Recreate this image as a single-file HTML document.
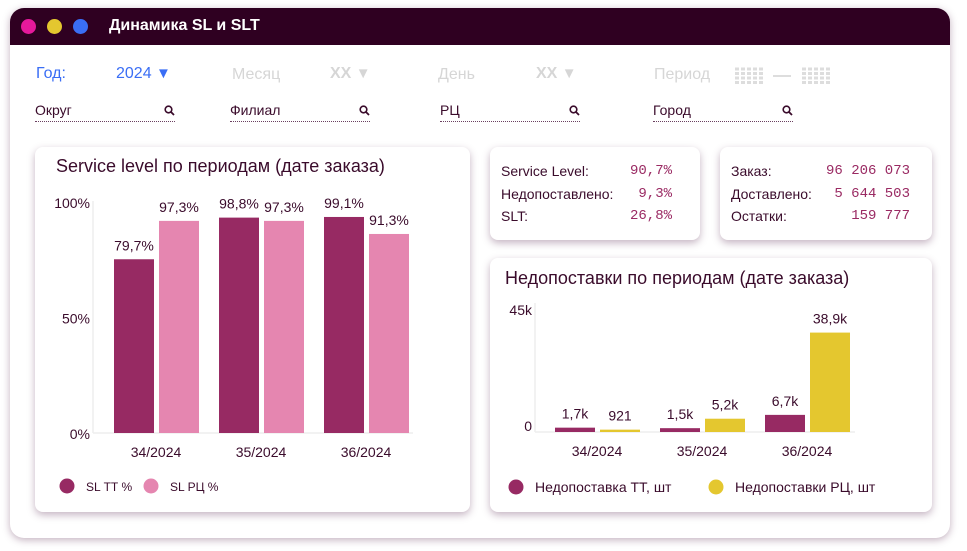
<!DOCTYPE html>
<html><head><meta charset="utf-8">
<style>
*{box-sizing:border-box;margin:0;padding:0}
body{width:967px;height:551px;background:#fff;font-family:"Liberation Sans","Noto Sans CJK SC",sans-serif;color:#3a0b2b;position:relative;overflow:hidden}
.win{position:absolute;left:10px;top:8px;width:940px;height:530px;border-radius:14px;background:#fff;box-shadow:0 2px 8px rgba(80,30,70,.35);overflow:hidden}
.hdr{position:absolute;left:0;top:0;width:940px;height:37px;background:#2f0021}
.dot{position:absolute;top:11px;width:15px;height:15px;border-radius:50%}
.ttl{position:absolute;left:99px;top:9px;color:#fff;font-size:16px;font-weight:bold}
.abs{position:absolute;font-size:16px;white-space:nowrap}
.grey{color:#d6d6d6;font-weight:bold}
.inp{position:absolute;height:20px;border-bottom:1px dotted #6b4060;font-size:14px;color:#3a0b2b;top:102px}
.inp svg{position:absolute;right:0;top:3px}
.card{position:absolute;background:#fff;border-radius:8px;box-shadow:0 3px 8px rgba(90,40,80,.35)}
.lbl{position:absolute;font-size:14px;color:#3a0b2b}
.val{position:absolute;font-size:14px;color:#9a2a63;font-family:"Liberation Mono",monospace;text-align:right}
.grid{position:absolute;width:30px;height:17px;background:repeating-linear-gradient(90deg,#ddd 0 4px,transparent 4px 6px),#fff;-webkit-mask:repeating-linear-gradient(0deg,#000 0 3px,transparent 3px 4.5px)}
</style></head><body>
<div class="win">
 <div class="hdr">
  <div class="dot" style="left:11px;background:#e5199b"></div>
  <div class="dot" style="left:37px;background:#e4c72f"></div>
  <div class="dot" style="left:63px;background:#3a6ef5"></div>
  <div class="ttl">Динамика SL и SLT</div>
 </div>
</div>
<div class="abs" style="left:36px;top:65px;color:#3a6ef5">Год:</div>
<div class="abs" style="left:116px;top:65px;color:#3a6ef5">2024 <span style="font-size:15px">▼</span></div>
<div class="abs" style="left:232px;top:66px;color:#d6d6d6">Месяц</div>
<div class="abs grey" style="left:330px;top:65px">XX <span style="font-size:15px">▼</span></div>
<div class="abs" style="left:438px;top:66px;color:#d6d6d6">День</div>
<div class="abs grey" style="left:536px;top:65px">XX <span style="font-size:15px">▼</span></div>
<div class="abs" style="left:654px;top:66px;color:#d6d6d6">Период</div>
<div class="grid" style="left:735px;top:67px"></div>
<div style="position:absolute;left:773px;top:75px;width:18px;height:2px;background:#ddd"></div>
<div class="grid" style="left:802px;top:67px"></div>

<div class="inp" style="left:35px;width:140px">Округ<svg width="11" height="11" viewBox="0 0 11 11"><circle cx="4.5" cy="4.5" r="3.3" fill="none" stroke="#3a0b2b" stroke-width="1.6"/><line x1="7" y1="7" x2="10" y2="10" stroke="#3a0b2b" stroke-width="1.8"/></svg></div>
<div class="inp" style="left:230px;width:140px">Филиал<svg width="11" height="11" viewBox="0 0 11 11"><circle cx="4.5" cy="4.5" r="3.3" fill="none" stroke="#3a0b2b" stroke-width="1.6"/><line x1="7" y1="7" x2="10" y2="10" stroke="#3a0b2b" stroke-width="1.8"/></svg></div>
<div class="inp" style="left:440px;width:140px">РЦ<svg width="11" height="11" viewBox="0 0 11 11"><circle cx="4.5" cy="4.5" r="3.3" fill="none" stroke="#3a0b2b" stroke-width="1.6"/><line x1="7" y1="7" x2="10" y2="10" stroke="#3a0b2b" stroke-width="1.8"/></svg></div>
<div class="inp" style="left:653px;width:140px">Город<svg width="11" height="11" viewBox="0 0 11 11"><circle cx="4.5" cy="4.5" r="3.3" fill="none" stroke="#3a0b2b" stroke-width="1.6"/><line x1="7" y1="7" x2="10" y2="10" stroke="#3a0b2b" stroke-width="1.8"/></svg></div>

<div class="card" style="left:35px;top:147px;width:435px;height:365px"></div>
<div class="card" style="left:490px;top:147px;width:210px;height:93px">
 <div class="lbl" style="left:11px;top:16px">Service Level:</div>
 <div class="val" style="right:28px;top:16px">90,7%</div>
 <div class="lbl" style="left:11px;top:39px">Недопоставлено:</div>
 <div class="val" style="right:28px;top:39px">9,3%</div>
 <div class="lbl" style="left:11px;top:61px">SLT:</div>
 <div class="val" style="right:28px;top:61px">26,8%</div>
</div>
<div class="card" style="left:720px;top:147px;width:212px;height:93px">
 <div class="lbl" style="left:11px;top:16px">Заказ:</div>
 <div class="val" style="right:22px;top:16px">96 206 073</div>
 <div class="lbl" style="left:11px;top:39px">Доставлено:</div>
 <div class="val" style="right:22px;top:39px">5 644 503</div>
 <div class="lbl" style="left:11px;top:61px">Остатки:</div>
 <div class="val" style="right:22px;top:61px">159 777</div>
</div>
<div class="card" style="left:490px;top:258px;width:442px;height:254px"></div>

<svg id="svg" width="967" height="551" style="position:absolute;left:0;top:0" font-family="Liberation Sans, sans-serif">
 <text x="56" y="172" font-size="18" fill="#3a0b2b">Service level по периодам (дате заказа)</text>
 <text x="505" y="284" font-size="18" fill="#3a0b2b">Недопоставки по периодам (дате заказа)</text>
</svg>
<script>
const periods=["34/2024","35/2024","36/2024"];
const slTT=[79.7,98.8,99.1];
const slRC=[97.3,97.3,91.3];
const slTTLabels=["79,7%","98,8%","99,1%"];
const slRCLabels=["97,3%","97,3%","91,3%"];
const slTicks=[0,50,100];
const slTickLabels=["0%","50%","100%"];
const shTT=[1700,1500,6700];
const shRC=[921,5200,38900];
const shTTLabels=["1,7k","1,5k","6,7k"];
const shRCLabels=["921","5,2k","38,9k"];
const shTicks=[0,45000];
const shTickLabels=["0","45k"];

const NS="http://www.w3.org/2000/svg";
const svg=document.getElementById('svg');
function mk(tag,attrs,text){const e=document.createElementNS(NS,tag);for(const k in attrs)e.setAttribute(k,attrs[k]);if(text!==undefined)e.textContent=text;svg.appendChild(e);return e;}

function chart(o){
 const y=v=>o.base-(v/o.max)*o.h;
 const ty=v=>o.base+o.toff-(v/o.max)*o.th;
 let e=mk('line',{x1:o.ax,y1:o.base,x2:o.ax,y2:o.base-o.h-14,stroke:'#eee','stroke-width':1.5});
 
 e=mk('line',{x1:o.ax,y1:o.base,x2:o.ax+o.axw,y2:o.base,stroke:'#eee','stroke-width':1.5});
 
 o.ticks.forEach((t,i)=>{
  const el=mk('text',{x:o.ax-3,y:ty(t)+5,'font-size':14,fill:'#3a0b2b','text-anchor':'end'},o.tickLabels[i]);
  
 });
 periods.forEach((p,i)=>{
  const gx=o.x0+i*o.step;
  [[o.a,o.al,o.ca,0],[o.b,o.bl,o.cb,45]].forEach(([arr,lab,c,dx],k)=>{
   const top=y(arr[i]);
   const r=mk('rect',{x:gx+dx,y:top,width:40,height:o.base-top,fill:c});
   
   
   const t=mk('text',{x:gx+dx+20,y:top-9,'font-size':14,fill:'#3a0b2b','text-anchor':'middle'},lab[i]);
   
   
  });
  const xl=mk('text',{x:gx+42,y:o.base+24,'font-size':14,fill:'#3a0b2b','text-anchor':'middle'},p);
  
  
 });
}
chart({id:'sl',ax:93,axw:320,base:433,h:218,th:231,toff:1,max:100,x0:114,step:105,a:slTT,b:slRC,al:slTTLabels,bl:slRCLabels,ca:'#972a63',cb:'#e586b0',ticks:slTicks,tickLabels:slTickLabels});
chart({id:'shortage',ax:535,axw:320,base:432,h:115,th:116,toff:-6,max:45000,x0:555,step:105,a:shTT,b:shRC,al:shTTLabels,bl:shRCLabels,ca:'#972a63',cb:'#e4c72f',ticks:shTicks,tickLabels:shTickLabels});

function legend(x,yy,c,txt,fs,name){
 const ci=mk('circle',{cx:x,cy:yy,r:7.5,fill:c});
 
 
 const t=mk('text',{x:x+19,y:yy+5,'font-size':fs,fill:'#3a0b2b'},txt);
 
 
}
legend(67,486,'#972a63','SL ТТ %',12,'legend-sl-tt');
legend(151,486,'#e586b0','SL РЦ %',12,'legend-sl-rc');
legend(516,487,'#972a63','Недопоставка ТТ, шт',14,'legend-shortage-tt');
legend(716,487,'#e4c72f','Недопоставки РЦ, шт',14,'legend-shortage-rc');
</script>
</body></html>
